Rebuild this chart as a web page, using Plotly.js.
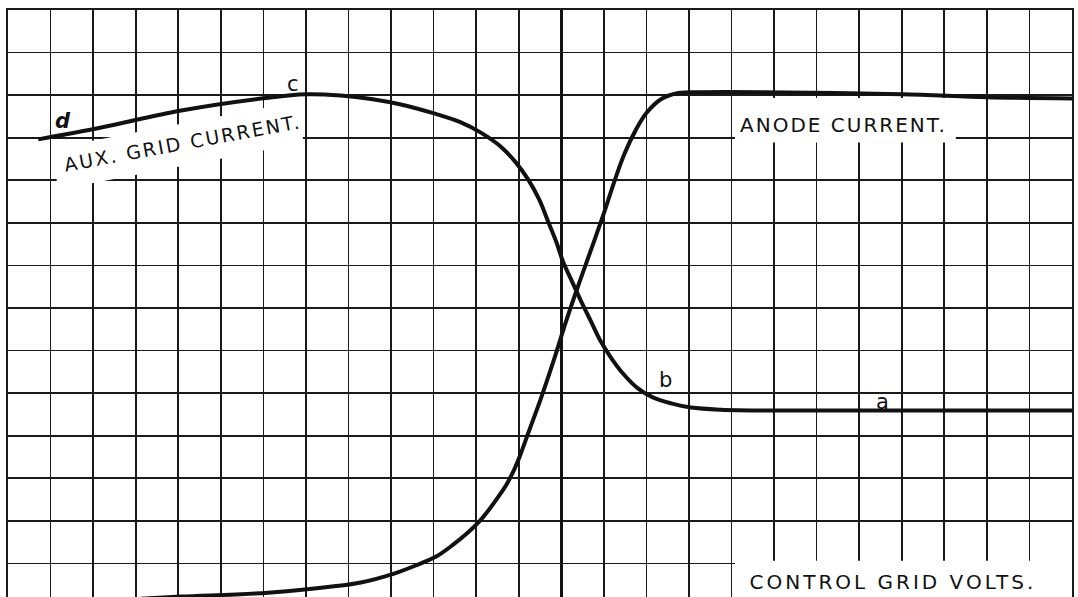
<!DOCTYPE html>
<html><head><meta charset="utf-8">
<script src="https://cdn.plot.ly/plotly-3.0.1.min.js"></script>
<style>
html,body{margin:0;padding:0;background:#fff;}
#chart{width:1078px;height:597px;}
</style></head><body><div id="chart"></div>
<script>
// Control grid volts (grid units, 0 = heavy vertical line)
const anodeX = [-9.88, -8.94, -6.89, -5.34, -4.71, -3.93, -3.42, -2.94, -2.54, -2.22, -1.93, -1.70, -1.49, -1.30, -1.14, -0.97, -0.78, -0.47, -0.17, 0.11, 0.39, 0.70, 1.0, 1.24, 1.48, 1.76, 2.0, 2.35, 2.75, 3.29, 4.69, 8.0, 10.0, 12.0];
const anodeY = [0.17, 0.22, 0.31, 0.46, 0.55, 0.76, 0.95, 1.16, 1.44, 1.70, 1.98, 2.26, 2.55, 2.83, 3.13, 3.53, 4.05, 4.9, 5.79, 6.68, 7.5, 8.37, 9.22, 9.95, 10.61, 11.2, 11.58, 11.91, 12.05, 12.07, 12.07, 12.02, 11.95, 11.92];
const auxX = [-12.29, -10.81, -8.93, -6.89, -6.0, -5.18, -4.47, -3.77, -2.99, -2.36, -1.89, -1.42, -1.07, -0.78, -0.52, -0.31, -0.12, 0.04, 0.23, 0.47, 0.70, 0.93, 1.17, 1.45, 1.80, 2.15, 2.58, 3.05, 3.75, 5.16, 12.0];
const auxY = [10.96, 11.24, 11.64, 11.94, 12.02, 11.99, 11.91, 11.78, 11.57, 11.36, 11.12, 10.79, 10.42, 10.02, 9.55, 9.03, 8.56, 8.09, 7.67, 7.15, 6.68, 6.21, 5.83, 5.46, 5.11, 4.9, 4.76, 4.66, 4.61, 4.59, 4.59];

const labelTexts = ['AUX. GRID CURRENT.', 'ANODE CURRENT.', 'CONTROL GRID VOLTS.', 'd', 'c', 'b', 'a'];
const labelX = [-8.9, 6.64, 7.79, -11.7, -6.3, 2.46, 7.55];
const labelY = [10.88, 11.31, 0.56, 11.39, 12.25, 5.31, 4.8];

const ink = '#111';
const traces = [
  {x: anodeX, y: anodeY, mode: 'lines', line: {color: ink, width: 4, shape: 'spline', smoothing: 1}, hoverinfo: 'skip'},
  {x: auxX, y: auxY, mode: 'lines', line: {color: ink, width: 4, shape: 'spline', smoothing: 1}, hoverinfo: 'skip'}
];

const labelStyle = [
  {size: 19, angle: -10.5},
  {size: 20, angle: 0},
  {size: 20, angle: 0},
  {size: 21, angle: 0},
  {size: 21, angle: 0},
  {size: 21, angle: 0},
  {size: 21, angle: 0}
];
const annotations = labelTexts.map((t, i) => ({
  x: labelX[i], y: labelY[i], xref: 'x', yref: 'y', text: t, showarrow: false,
  xanchor: 'center', yanchor: 'middle', textangle: labelStyle[i].angle,
  font: {family: 'DejaVu Sans, sans-serif', size: labelStyle[i].size, color: ink,
         style: i === 3 ? 'italic' : 'normal', weight: i === 3 ? 'bold' : 'normal'}
}));

const white = {type: 'path', layer: 'between', fillcolor: '#fff', line: {width: 0}, xref: 'x', yref: 'y'};
const shapes = [
  Object.assign({}, white, {path: 'M -11.83 9.78 L -6.05 10.88 L -6.23 11.84 L -11.94 10.75 Z'}),
  {type: 'rect', layer: 'between', fillcolor: '#fff', line: {width: 0}, xref: 'x', yref: 'y', x0: 4.08, x1: 9.27, y0: 10.89, y1: 11.93},
  {type: 'rect', layer: 'between', fillcolor: '#fff', line: {width: 0}, xref: 'x', yref: 'y', x0: 4.08, x1: 12.0, y0: 0.0, y1: 1.06}
];

const layout = {
  width: 1078, height: 597,
  margin: {l: 8, r: 6, t: 10, b: 0, pad: 0},
  paper_bgcolor: '#fff', plot_bgcolor: '#fff',
  showlegend: false,
  xaxis: {range: [-13, 12], dtick: 1, tick0: 0, showgrid: true, gridcolor: '#1a1a1a', gridwidth: 1.7,
          zeroline: true, zerolinecolor: '#111', zerolinewidth: 3,
          showticklabels: false, ticks: '', showline: true, side: 'top', linecolor: '#1a1a1a', linewidth: 2, mirror: false, fixedrange: true},
  yaxis: {range: [0.21, 14], dtick: 1, tick0: 0, showgrid: true, gridcolor: '#1a1a1a', gridwidth: 1.7,
          zeroline: false, showticklabels: false, ticks: '', showline: true, linecolor: '#1a1a1a', linewidth: 2, mirror: true, fixedrange: true},
  annotations: annotations,
  shapes: shapes
};

const spacing = {0: 2.2, 1: 2.0, 2: 3.0};
Plotly.newPlot('chart', traces, layout, {displayModeBar: false, staticPlot: true}).then(gd => {
  gd.querySelectorAll('g.annotation').forEach(g => {
    const i = g.getAttribute('data-index');
    const t = g.querySelector('text');
    if (t && spacing[i] !== undefined) t.style.letterSpacing = spacing[i] + 'px';
  });
});
</script></body></html>
